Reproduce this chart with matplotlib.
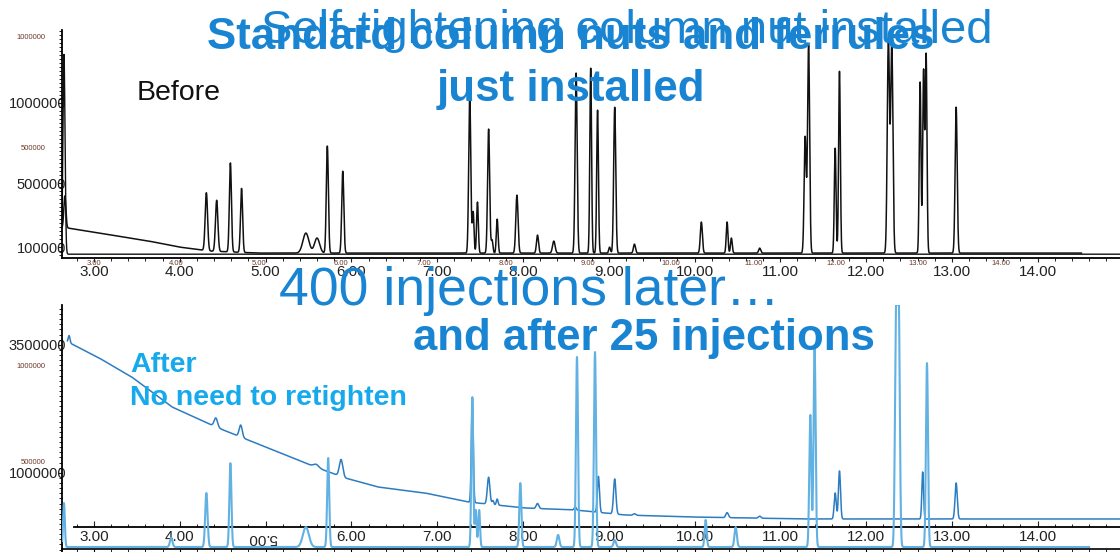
import numpy as np
import matplotlib
matplotlib.use("Agg")
import matplotlib.pyplot as plt
from matplotlib.ticker import MultipleLocator

plt.rcParams["font.family"] = ["Liberation Sans", "DejaVu Sans"]

# ------------------------------------------------------------------ data
time_ticks = [3, 4, 5, 6, 7, 8, 9, 10, 11, 12, 13, 14]
time_labels = ["3.00", "4.00", "5.00", "6.00", "7.00", "8.00", "9.00",
               "10.00", "11.00", "12.00", "13.00", "14.00"]
# in the lower chart the 5.00 label is printed upside down below the axis
bot_time_labels = ["3.00", "4.00", "", "6.00", "7.00", "8.00", "9.00",
                   "10.00", "11.00", "12.00", "13.00", "14.00"]
flipped_label = "5.00"

top_yticks = [100000, 500000, 1000000]
top_ylabels = ["100000", "500000", "1000000"]
top_small_yticks = [500000, 1000000]
top_small_ylabels = ["500000", "1000000"]
bot_yticks = [1000000, 3500000]
bot_ylabels = ["1000000", "3500000"]
bot_small_yticks = [500000, 1000000]
bot_small_ylabels = ["500000", "1000000"]

# "Before" chromatogram (black, drifting baseline)
top_base_t = [2.62, 2.69, 2.77, 3.06, 3.64, 3.99, 4.34, 4.92, 14.51]
top_base_c = [219000, 219000, 212000, 187000, 137000, 100000, 75000, 62000, 62000]
top_peak_t = [2.66, 4.31, 4.43, 4.59, 4.72, 5.47, 5.60, 5.72, 5.90, 7.38, 7.42,
              7.47, 7.60, 7.64, 7.70, 7.93, 8.17, 8.36, 8.62, 8.79, 8.87, 9.01,
              9.07, 9.30, 10.08, 10.38, 10.43, 10.76, 11.29, 11.33, 11.64, 11.69,
              12.26, 12.30, 12.63, 12.67, 12.70, 13.05]
top_peak_h = [200000, 362000, 319000, 556000, 400000, 125000, 94000, 669000,
              512000, 987000, 256000, 319000, 775000, 81000, 212000, 362000,
              112000, 75000, 1125000, 1156000, 894000, 37000, 912000, 56000,
              194000, 194000, 94000, 31000, 725000, 1300000, 656000, 1137000,
              1331000, 1300000, 1069000, 1137000, 1237000, 912000]
top_peak_w = [0.012, 0.014, 0.014, 0.012, 0.012, 0.035, 0.03, 0.012, 0.012,
              0.012, 0.01, 0.01, 0.012, 0.01, 0.01, 0.013, 0.012, 0.015, 0.012,
              0.01, 0.01, 0.01, 0.012, 0.012, 0.012, 0.01, 0.01, 0.012, 0.012,
              0.012, 0.01, 0.01, 0.013, 0.013, 0.01, 0.01, 0.01, 0.012]
# second black trace (flat baseline with solvent spike)
top2_base_t = [2.60, 14.96]
top2_base_c = [55000, 55000]
top2_peak_t = [2.65]
top2_peak_h = [1250000]
top2_peak_w = [0.012]

# "After" chromatogram A (mid blue, strongly drifting baseline)
botA_base_t = [2.69, 3.06, 3.44, 3.91, 4.42, 4.71, 5.58, 5.93, 6.31, 6.86,
               7.36, 8.02, 8.61, 9.19, 9.95, 11.28, 14.96]
botA_base_c = [3560000, 3242000, 2871000, 2285000, 1895000, 1699000, 1113000,
               898000, 723000, 605000, 430000, 313000, 273000, 176000, 137000,
               98000, 98000]
botA_peak_t = [2.71, 4.42, 4.71, 5.59, 5.88, 7.41, 7.60, 7.65, 7.70, 8.17, 8.61,
               8.88, 9.07, 9.30, 10.38, 10.76, 11.64, 11.69, 12.66, 13.05]
botA_peak_h = [137000, 176000, 234000, 59000, 332000, 2051000, 527000, 78000,
               117000, 98000, 59000, 703000, 684000, 30000, 98000, 39000,
               508000, 938000, 918000, 703000]
botA_peak_w = [0.01, 0.02, 0.018, 0.03, 0.02, 0.011, 0.015, 0.01, 0.01, 0.015,
               0.012, 0.012, 0.014, 0.015, 0.015, 0.015, 0.012, 0.012, 0.01, 0.013]

# "After" chromatogram B (light blue, flat baseline)
botB_base_t = [2.63, 14.60]
botB_base_c = [52000, 52000]
botB_peak_t = [2.65, 3.90, 4.31, 4.59, 5.47, 5.73, 7.41, 7.45, 7.49, 7.97, 8.41,
               8.63, 8.84, 9.07, 10.13, 10.48, 11.35, 11.40, 12.35, 12.38, 12.71]
botB_peak_h = [229000, 47000, 281000, 437000, 104000, 464000, 781000, 193000,
               193000, 333000, 63000, 990000, 1016000, 36000, 141000, 104000,
               688000, 1042000, 1193000, 1266000, 958000]
botB_peak_w = [0.01, 0.015, 0.014, 0.012, 0.035, 0.012, 0.011, 0.01, 0.01, 0.012,
               0.015, 0.012, 0.012, 0.014, 0.012, 0.014, 0.012, 0.012, 0.013,
               0.013, 0.012]

# ------------------------------------------------------------------ helpers
W, H = 1120, 552
BLUE = "#1884d2"
CYAN = "#16aaec"
BLACK_TRACE = "#111111"
TRACE_A = "#2c7cc1"
TRACE_B = "#62b1e3"
SMALL_COL = "#6b3a2a"
XLIM = (2.627, 14.96)
XLIM_SMALL = (2.612, 15.451)


def build(t, base_t, base_c, pk_t, pk_h, pk_w):
    y = np.interp(t, base_t, base_c)
    for pt, ph, pw in zip(pk_t, pk_h, pk_w):
        y = y + ph * np.exp(-0.5 * ((t - pt) / pw) ** 2)
    return y


def rect(x0, y0, x1, y1):
    return [x0 / W, 1 - y1 / H, (x1 - x0) / W, (y1 - y0) / H]


fig = plt.figure(figsize=(W / 100, H / 100), dpi=100)

# ------------------------------------------------------------------ top panel
ax1 = fig.add_axes(rect(62, 30, 1120, 258))
ax1.set_xlim(XLIM)
ax1.set_ylim(31250, 1456250)
for s in ("top", "right"):
    ax1.spines[s].set_visible(False)
for s in ("left", "bottom"):
    ax1.spines[s].set_linewidth(1.3)
ax1.set_xticks(time_ticks)
ax1.set_xticklabels(time_labels)
ax1.xaxis.set_minor_locator(MultipleLocator(0.2))
ax1.tick_params(axis="x", which="major", direction="out", length=3, pad=2,
                labelsize=11, colors="#222222")
ax1.tick_params(axis="x", which="minor", direction="out", length=2)
ax1.set_yticks(top_yticks)
ax1.set_yticklabels(top_ylabels)
ax1.yaxis.set_minor_locator(MultipleLocator(25000))
ax1.tick_params(axis="y", which="major", length=3, pad=-6, labelsize=10.5,
                colors="#222222")
ax1.tick_params(axis="y", which="minor", length=2.5)

t1 = np.linspace(top_base_t[0], top_base_t[-1], 9000)
t2 = np.linspace(top2_base_t[0], top2_base_t[-1], 9000)
ax1.plot(t2, build(t2, top2_base_t, top2_base_c, top2_peak_t, top2_peak_h,
                   top2_peak_w), color=BLACK_TRACE, lw=1.0)
ax1.plot(t1, build(t1, top_base_t, top_base_c, top_peak_t, top_peak_h,
                   top_peak_w), color=BLACK_TRACE, lw=1.1)

ax1s = fig.add_axes(rect(62, 30, 1120, 258), frameon=False)
ax1s.set_xlim(XLIM_SMALL)
ax1s.set_ylim(4500, 1031500)
ax1s.set_xticks(time_ticks)
ax1s.set_xticklabels(time_labels)
ax1s.set_yticks(top_small_yticks)
ax1s.set_yticklabels(top_small_ylabels)
ax1s.tick_params(axis="x", length=0, pad=1.5, labelsize=5.5, colors=SMALL_COL)
ax1s.tick_params(axis="y", length=0, pad=12, labelsize=5.5, colors=SMALL_COL)

# ------------------------------------------------------------------ bottom panel
axB = fig.add_axes(rect(62, 305, 1120, 552))
axB.set_xlim(XLIM)
axB.set_ylim(-546875, 4277344)
for s in ("top", "right"):
    axB.spines[s].set_visible(False)
axB.spines["left"].set_linewidth(1.3)
axB.spines["bottom"].set_linewidth(1.3)
axB.spines["bottom"].set_position(("axes", (552 - 527) / 247))
axB.spines["bottom"].set_bounds(2.77, XLIM[1])
axB.set_xticks(time_ticks)
axB.set_xticklabels(bot_time_labels)
axB.xaxis.set_minor_locator(MultipleLocator(0.2))
axB.tick_params(axis="x", which="major", direction="in", length=4, pad=2,
                labelsize=11, colors="#222222")
axB.tick_params(axis="x", which="minor", direction="in", length=2.5)
axB.set_yticks(bot_yticks)
axB.set_yticklabels(bot_ylabels)
axB.yaxis.set_minor_locator(MultipleLocator(100000))
axB.tick_params(axis="y", which="major", length=3, pad=-6, labelsize=10.5,
                colors="#222222")
axB.tick_params(axis="y", which="minor", length=2.5)

tA = np.linspace(botA_base_t[0], botA_base_t[-1], 9000)
axB.plot(tA, build(tA, botA_base_t, botA_base_c, botA_peak_t, botA_peak_h,
                   botA_peak_w), color=TRACE_A, lw=1.1, zorder=3)

# upside-down 5.00 label, placed through the axis' own transform
axB.text(time_ticks[2] - 0.04, 0.057, flipped_label,
         transform=axB.get_xaxis_transform(), ha="center", va="center",
         rotation=180, fontsize=11, color="#222222", zorder=5)

# lower time axis (bottom edge)
axBl = fig.add_axes(rect(62, 305, 1120, 552))
axBl.set_facecolor("none")
for s in ("top", "right", "left"):
    axBl.spines[s].set_visible(False)
axBl.spines["bottom"].set_position(("axes", 3 / 247))
axBl.spines["bottom"].set_linewidth(1.2)
axBl.set_xlim(XLIM)
axBl.set_ylim(26042, 1312500)
axBl.set_yticks([])
axBl.set_xticks(time_ticks)
axBl.set_xticklabels([])
axBl.xaxis.set_minor_locator(MultipleLocator(0.2))
axBl.tick_params(axis="x", which="major", direction="out", length=4)
axBl.tick_params(axis="x", which="minor", direction="out", length=2.5)

tB = np.linspace(botB_base_t[0], botB_base_t[-1], 9000)
axBl.plot(tB, build(tB, botB_base_t, botB_base_c, botB_peak_t, botB_peak_h,
                    botB_peak_w), color=TRACE_B, lw=1.5, zorder=2)

axBs = fig.add_axes(rect(62, 305, 1120, 552), frameon=False)
axBs.set_xlim(XLIM)
axBs.set_ylim(26042, 1312500)
axBs.set_xticks([])
axBs.set_yticks(bot_small_yticks)
axBs.set_yticklabels(bot_small_ylabels)
axBs.tick_params(axis="y", length=0, pad=12, labelsize=5.5, colors=SMALL_COL)

# ------------------------------------------------------------------ texts
fig.text(137 / W, 1 - 100 / H, "Before", ha="left", va="baseline",
         fontsize=20.5, color="#111111")
fig.text(627 / W, 1 - 43 / H, "Self-tightening column nut installed",
         ha="center", va="baseline", fontsize=34, color=BLUE)
fig.text(571 / W, 1 - 49 / H, "Standard column nuts and ferrules",
         ha="center", va="baseline", fontsize=31.6, weight="bold", color=BLUE)
fig.text(571 / W, 1 - 101 / H, "just installed", ha="center", va="baseline",
         fontsize=31.6, weight="bold", color=BLUE)
fig.text(529 / W, 1 - 305 / H, "400 injections later\u2026", ha="center",
         va="baseline", fontsize=38.5, color=BLUE)
fig.text(644 / W, 1 - 350 / H, "and after 25 injections", ha="center",
         va="baseline", fontsize=31.5, weight="bold", color=BLUE)
fig.text(130 / W, 1 - 372 / H, "After", ha="left", va="baseline",
         fontsize=20.5, weight="bold", color=CYAN)
fig.text(130 / W, 1 - 405 / H, "No need to retighten", ha="left",
         va="baseline", fontsize=20.5, weight="bold", color=CYAN)

fig.savefig("out.png", dpi=100)
